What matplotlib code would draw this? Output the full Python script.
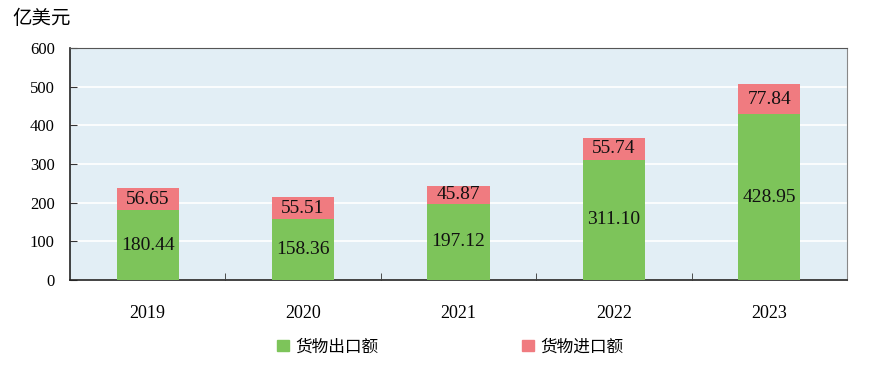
import matplotlib.pyplot as plt
import numpy as np

years = ['2019', '2020', '2021', '2022', '2023']
exports = [180.44, 158.36, 197.12, 311.10, 428.95]
imports = [56.65, 55.51, 45.87, 55.74, 77.84]
export_name = '货物出口额'
import_name = '货物进口额'

green = '#7DC45A'
red = '#F07B80'
cjk = ['Noto Sans CJK SC', 'DejaVu Sans']
num_font = ['Liberation Serif', 'DejaVu Serif']

fig = plt.figure(figsize=(8.71, 3.75), dpi=100)
ax = fig.add_axes([0.0804, 0.2533, 0.892, 0.6187])
ax.set_facecolor('#E2EEF5')

x = np.arange(len(years))
ax.bar(x, exports, width=0.4, color=green, zorder=3)
ax.bar(x, imports, width=0.4, bottom=exports, color=red, zorder=3)

# value labels inside segments
for i in range(len(years)):
    ax.text(x[i], exports[i] / 2, f'{exports[i]:.2f}', ha='center', va='center',
            fontsize=14, family=num_font, color='#111111', zorder=4)
    ax.text(x[i], exports[i] + imports[i] / 2, f'{imports[i]:.2f}', ha='center',
            va='center', fontsize=14, family=num_font, color='#111111', zorder=4)

ax.set_xlim(-0.5, len(years) - 0.5)
ax.set_ylim(0, 600)
ax.set_yticks(range(0, 601, 100))
ax.set_yticklabels([str(v) for v in range(0, 601, 100)], family=num_font, fontsize=12)
ax.yaxis.grid(True, color='white', linewidth=1.2, zorder=1)
ax.set_axisbelow(True)

# year labels, ticks between categories
ax.set_xticks(x)
ax.set_xticklabels(years, family=num_font, fontsize=13)
ax.tick_params(axis='x', length=0, pad=18)
ax.set_xticks(np.arange(0.5, len(years) - 0.5, 1), minor=True)
ax.tick_params(axis='x', which='minor', direction='in', length=5, color='#333333')
ax.tick_params(axis='y', direction='in', length=5, pad=11, color='#333333')

for s in ['left', 'bottom']:
    ax.spines[s].set_color('#222222')
    ax.spines[s].set_linewidth(1.2)
ax.spines['top'].set_color('#555555')
ax.spines['right'].set_color('#888888')

fig.text(0.014, 0.95, '亿美元', family=cjk, fontsize=14, va='center', ha='left')

# legend
h1 = plt.Rectangle((0, 0), 1, 1, color=green)
h2 = plt.Rectangle((0, 0), 1, 1, color=red)
fig.legend([h1, h2], [export_name, import_name], loc='center', ncol=2,
           bbox_to_anchor=(0.517, 0.075), frameon=False, prop={'family': cjk, 'size': 12},
           handlelength=0.7, handleheight=0.7, handletextpad=0.4, columnspacing=8.6)

fig.savefig('out.png', dpi=100)
